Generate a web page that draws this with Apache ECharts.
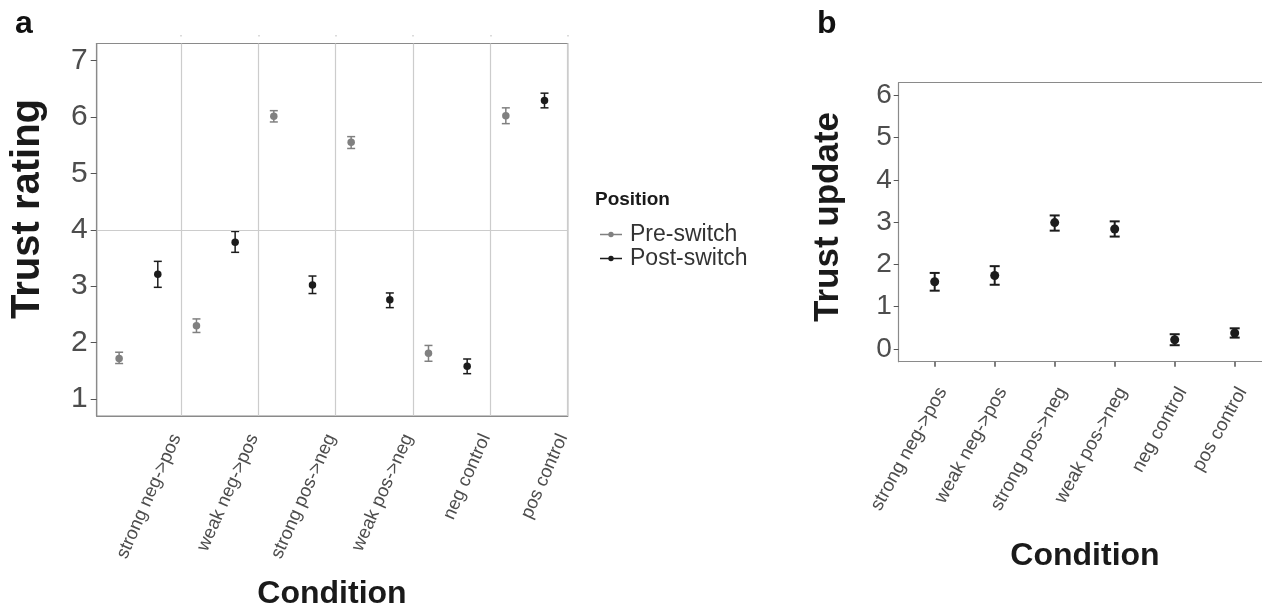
<!DOCTYPE html>
<html><head><meta charset="utf-8">
<script src="https://cdn.jsdelivr.net/npm/echarts@6.0.0/dist/echarts.min.js"></script>
<style>html,body{margin:0;padding:0;background:#fff}#c{width:1262px;height:609px}</style>
</head><body><div id="c"></div>
<script>
const categories = ['strong neg->pos','weak neg->pos','strong pos->neg','weak pos->neg','neg control','pos control'];
const seriesNames = ['Pre-switch','Post-switch'];
const preMean  = [1.72, 2.30, 6.01, 5.55, 1.81, 6.02];
const preLow   = [1.63, 2.18, 5.91, 5.44, 1.67, 5.88];
const preHigh  = [1.83, 2.42, 6.11, 5.65, 1.95, 6.16];
const postMean = [3.21, 3.78, 3.02, 2.76, 1.58, 6.29];
const postLow  = [2.98, 3.60, 2.87, 2.62, 1.45, 6.16];
const postHigh = [3.44, 3.97, 3.18, 2.88, 1.71, 6.42];
const updateMean = [1.59, 1.74, 2.99, 2.84, 0.22, 0.38];
const updateLow  = [1.38, 1.52, 2.80, 2.66, 0.09, 0.27];
const updateHigh = [1.80, 1.96, 3.16, 3.02, 0.35, 0.49];
const ratingTicks = [1, 2, 3, 4, 5, 6, 7];
const updateTicks = [0, 1, 2, 3, 4, 5, 6];
const midline = 4;

const FONT = '"Liberation Sans", Arial, Helvetica, sans-serif';
const PRE_C = '#808080', POST_C = '#1c1c1c', AX_C = '#8a8a8a', TXT_C = '#4d4d4d';
// panel a: dodge offsets inside each category slot (slot i spans i..i+1)
const PRE_OFF = 0.2, POST_OFF = 0.7, LAB_OFF_A = 0.94, LAB_OFF_B = 0.13;

const idx = categories.map((c, i) => i);
function errRender(capHalf, width, color) {
  return function (params, api) {
    const x = api.value(0), lo = api.value(1), hi = api.value(2);
    const a = api.coord([x, lo]), b = api.coord([x, hi]);
    const style = { stroke: color, lineWidth: width };
    return { type: 'group', children: [
      { type: 'line', shape: { x1: a[0], y1: a[1], x2: b[0], y2: b[1] }, style },
      { type: 'line', shape: { x1: a[0] - capHalf, y1: a[1], x2: a[0] + capHalf, y2: a[1] }, style },
      { type: 'line', shape: { x1: b[0] - capHalf, y1: b[1], x2: b[0] + capHalf, y2: b[1] }, style }
    ]};
  };
}

const chart = echarts.init(document.getElementById('c'), null, { renderer: 'canvas' });
const legendIcon = 'path://M0,2.0 L22,2.0 L22,3.4 L0,3.4 Z M11,0 A2.7,2.7 0 1,1 10.99,0 Z';

chart.setOption({
  animation: false,
  backgroundColor: '#fff',
  textStyle: { fontFamily: FONT },
  grid: [
    { left: 96.7, top: 43.5, width: 471, height: 372.5, show: true, borderColor: AX_C, borderWidth: 1.2, backgroundColor: '#fff' },
    { left: 898.7, top: 82.7, right: 0, height: 279, show: false }
  ],
  xAxis: [
    { type: 'value', gridIndex: 0, min: -0.09, max: 6,
      axisLine: { show: true, onZero: false, lineStyle: { color: AX_C, width: 1.2 } },
      axisTick: { show: false, customValues: idx.map(i => i + 1) },
      splitLine: { show: true, lineStyle: { color: '#cccccc', width: 1.2 } },
      axisLabel: { show: true, customValues: idx.map(i => i + LAB_OFF_A), rotate: 66, margin: 19, fontSize: 18.5, color: TXT_C, fontFamily: FONT,
        hideOverlap: false, formatter: v => categories[Math.round(v - LAB_OFF_A)] } },
    { type: 'value', gridIndex: 1, min: -0.6, max: 5.455,
      axisLine: { show: true, onZero: false, lineStyle: { color: AX_C, width: 1.2 } },
      axisTick: { show: true, length: 5, customValues: idx, lineStyle: { color: '#555', width: 1.5 } },
      splitLine: { show: false },
      axisLabel: { show: true, customValues: idx.map(i => i + LAB_OFF_B), rotate: 61, margin: 27, fontSize: 19, color: TXT_C, fontFamily: FONT,
        hideOverlap: false, formatter: v => categories[Math.round(v - LAB_OFF_B)] } },
    { type: 'value', gridIndex: 1, position: 'top', min: -0.6, max: 5.455,
      axisLine: { show: true, onZero: false, lineStyle: { color: AX_C, width: 1.2 } },
      axisTick: { show: false }, axisLabel: { show: false }, splitLine: { show: false } },
    { type: 'value', gridIndex: 0, position: 'top', offset: 7, min: -0.09, max: 6,
      axisLine: { show: false },
      axisTick: { show: true, length: 1.5, customValues: idx.map(i => i + 1), lineStyle: { color: '#cfcfcf', width: 1.5 } },
      axisLabel: { show: false }, splitLine: { show: false } }
  ],
  yAxis: [
    { type: 'value', gridIndex: 0, min: 0.7, max: 7.3,
      axisLine: { show: true, onZero: false, lineStyle: { color: AX_C, width: 1.2 } },
      axisTick: { show: true, length: 6, customValues: ratingTicks, lineStyle: { color: '#555' } },
      splitLine: { show: false },
      axisLabel: { customValues: ratingTicks, fontSize: 30, color: TXT_C, margin: 9, fontFamily: FONT } },
    { type: 'value', gridIndex: 1, min: -0.3, max: 6.3,
      axisLine: { show: true, onZero: false, lineStyle: { color: AX_C, width: 1.2 } },
      axisTick: { show: true, length: 5, customValues: updateTicks, lineStyle: { color: '#555' } },
      splitLine: { show: false },
      axisLabel: { customValues: updateTicks, fontSize: 28, color: TXT_C, margin: 7, fontFamily: FONT } }
  ],
  legend: {
    data: seriesNames, orient: 'vertical', left: 595, top: 218, itemWidth: 22, itemHeight: 5.4, itemGap: 1,
    icon: legendIcon, textStyle: { fontSize: 23, color: '#333', padding: [0, 0, 0, 3], fontFamily: FONT }
  },
  graphic: [
    { type: 'text', left: 15, top: 8, style: { text: 'a', font: 'bold 32px ' + FONT, fill: '#111' } },
    { type: 'text', left: 817, top: 8, style: { text: 'b', font: 'bold 32px ' + FONT, fill: '#111' } },
    { type: 'text', x: 28, y: 209, rotation: Math.PI / 2, style: { text: 'Trust rating', font: 'bold 40px ' + FONT, fill: '#1a1a1a', align: 'center', verticalAlign: 'middle' } },
    { type: 'text', x: 828, y: 217, rotation: Math.PI / 2, style: { text: 'Trust update', font: 'bold 35px ' + FONT, fill: '#1a1a1a', align: 'center', verticalAlign: 'middle' } },
    { type: 'text', x: 332, y: 594, style: { text: 'Condition', font: 'bold 32px ' + FONT, fill: '#1a1a1a', align: 'center', verticalAlign: 'middle' } },
    { type: 'text', x: 1085, y: 556, style: { text: 'Condition', font: 'bold 32px ' + FONT, fill: '#1a1a1a', align: 'center', verticalAlign: 'middle' } },
    { type: 'text', x: 595, y: 200, style: { text: 'Position', font: 'bold 19px ' + FONT, fill: '#1a1a1a', align: 'left', verticalAlign: 'middle' } }
  ],
  series: [
    { name: 'midline', type: 'line', xAxisIndex: 0, yAxisIndex: 0, data: [], silent: true,
      markLine: { silent: true, symbol: 'none', label: { show: false }, lineStyle: { color: '#cccccc', width: 1.2, type: 'solid' }, data: [{ yAxis: midline }] } },
    { name: 'Pre-switch err', type: 'custom', xAxisIndex: 0, yAxisIndex: 0, renderItem: errRender(4, 1.5, PRE_C),
      encode: { x: 0, y: [1, 2] }, data: idx.map(i => [i + PRE_OFF, preLow[i], preHigh[i]]), z: 3 },
    { name: 'Post-switch err', type: 'custom', xAxisIndex: 0, yAxisIndex: 0, renderItem: errRender(4, 1.5, POST_C),
      encode: { x: 0, y: [1, 2] }, data: idx.map(i => [i + POST_OFF, postLow[i], postHigh[i]]), z: 3 },
    { name: 'Pre-switch', type: 'scatter', xAxisIndex: 0, yAxisIndex: 0, symbolSize: 7.5, itemStyle: { color: PRE_C, opacity: 1 },
      data: idx.map(i => [i + PRE_OFF, preMean[i]]), z: 4 },
    { name: 'Post-switch', type: 'scatter', xAxisIndex: 0, yAxisIndex: 0, symbolSize: 7.5, itemStyle: { color: POST_C, opacity: 1 },
      data: idx.map(i => [i + POST_OFF, postMean[i]]), z: 4 },
    { name: 'Update err', type: 'custom', xAxisIndex: 1, yAxisIndex: 1, renderItem: errRender(5, 2, POST_C),
      encode: { x: 0, y: [1, 2] }, data: idx.map(i => [i, updateLow[i], updateHigh[i]]), z: 3 },
    { name: 'Trust update', type: 'scatter', xAxisIndex: 1, yAxisIndex: 1, symbolSize: 9, itemStyle: { color: POST_C, opacity: 1 },
      data: idx.map(i => [i, updateMean[i]]), z: 4 }
  ]
});
</script></body></html>
